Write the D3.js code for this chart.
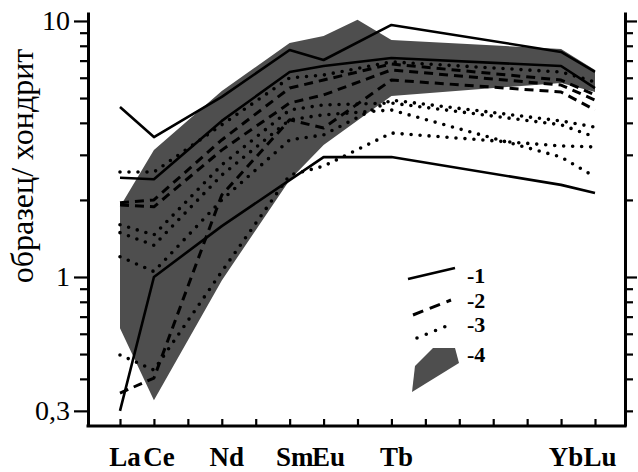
<!DOCTYPE html>
<html>
<head>
<meta charset="utf-8">
<script src="https://cdn.jsdelivr.net/npm/d3@7/dist/d3.min.js"></script>
<style>
  body { margin: 0; background: #fff; }
  svg { display: block; }
  text { font-family: "Liberation Serif", "Times New Roman", serif; fill: #000; }
</style>
</head>
<body>
<svg id="chart" width="638" height="472"></svg>
<script>
// Rare earth elements in order along the x axis
const elements = ["La","Ce","Pr","Nd","Pm","Sm","Eu","Gd","Tb","Dy","Ho","Er","Tm","Yb","Lu"];
// Elements named under the axis
const axisLabels = ["La","Ce","Nd","Sm","Eu","Tb","Yb","Lu"];
// Elements measured in each sample
const sampleElements = ["La","Ce","Nd","Sm","Eu","Tb","Yb","Lu"];

// Group 1 (solid lines): sample / chondrite
const solidSeries = [
  [4.61, 3.52, 5.05, 7.70, 7.04, 9.65, 7.57, 6.32],
  [2.44, 2.41, 4.07, 6.32, 6.67, 7.17, 6.67, 5.47],
  [0.30, 1.00, 1.58, 2.39, 2.94, 2.94, 2.29, 2.13]
];
// Group 2 (dashed lines)
const dashedSeries = [
  [1.91, 1.88, 3.13, 4.78, 5.14, 6.44, 5.62, 4.91],
  [0.352, 0.403, 2.09, 4.11, 3.82, 5.88, 5.28, 4.49],
  [1.95, 2.00, 3.43, 5.47, 5.88, 6.79, 5.88, 5.14]
];
// Group 3 (dotted lines)
const dottedSeries = [
  [2.57, 2.57, 3.93, 5.99, 6.15, 6.92, 6.32, 5.78],
  [1.20, 1.05, 2.00, 3.43, 3.59, 4.91, 4.07, 3.85],
  [0.496, 0.433, 1.05, 2.50, 2.71, 3.65, 3.25, 3.22],
  [1.49, 1.33, 2.50, 4.11, 4.30, 4.49, 2.94, 2.46],
  [1.60, 1.46, 2.74, 4.49, 4.70, 4.78, 3.93, 3.52]
];
// Group 4 (shaded field): upper and lower envelopes
const fieldUpperElements = ["La","Ce","Nd","Sm","Eu","Gd","Tb","Yb","Lu"];
const fieldUpper = [1.88, 3.13, 5.33, 8.20, 8.74, 10.1, 8.43, 7.77, 6.44];
const fieldLowerElements = ["La","Ce","Nd","Sm","Eu","Tb","Yb","Lu"];
const fieldLower = [0.63, 0.33, 0.97, 2.39, 3.28, 5.09, 5.73, 5.28];

// Y axis ticks
const yMajorTicks = [10, 1, 0.3];
const yMajorLabels = ["10", "1", "0,3"];
const yMinorTicks = [0.4, 0.5, 0.6, 0.7, 0.8, 0.9, 2, 3, 4, 5, 6, 7, 8, 9];
const yRightMajor = [10, 1];
const yRightMinor = [0.3, 0.4, 0.5, 0.6, 0.7, 0.8, 0.9, 2, 3, 4, 5, 6, 7, 8, 9];

const yTitle = "образец/ хондрит";
const legendLabels = ["-1", "-2", "-3", "-4"];

const svg = d3.select("#chart");
const plotLeft = 88, plotRight = 625, plotTop = 12, plotBottom = 426;
const fieldColor = "#4e4e4e";

const x = d3.scalePoint().domain(elements).range([120, 595]);
const y = d3.scaleLog().domain([0.2618, 10.84]).range([plotBottom, plotTop]);

// shaded field
const fieldPts = fieldUpperElements.map((e, i) => [x(e), y(fieldUpper[i])])
  .concat(fieldLowerElements.map((e, i) => [x(e), y(fieldLower[i])]).reverse());
svg.append("path")
  .attr("d", d3.line()(fieldPts) + "Z")
  .attr("fill", fieldColor);

const line = d3.line()
  .x((d, i) => x(sampleElements[i]))
  .y(d => y(d));

function drawSeries(series, cls, style) {
  svg.append("g").attr("class", cls)
    .selectAll("path").data(series).join("path")
    .attr("d", line)
    .attr("fill", "none")
    .attr("stroke", "#000")
    .attr("stroke-width", style.width)
    .attr("stroke-dasharray", style.dash)
    .attr("stroke-linecap", style.cap)
    .attr("stroke-linejoin", "round");
}
drawSeries(dottedSeries, "dotted", { width: 3.6, dash: "0,9", cap: "round" });
drawSeries(dashedSeries, "dashed", { width: 3, dash: "9,6", cap: "butt" });
drawSeries(solidSeries, "solid", { width: 2.6, dash: null, cap: "butt" });

// Left axis
const gLeft = svg.append("g").attr("transform", `translate(${plotLeft},0)`);
gLeft.call(d3.axisLeft(y).tickValues(yMajorTicks).tickSize(14).tickSizeOuter(0).tickPadding(4)
  .tickFormat((d, i) => yMajorLabels[i]));
gLeft.append("g").call(d3.axisLeft(y).tickValues(yMinorTicks).tickSize(8).tickSizeOuter(0).tickFormat(""))
  .select(".domain").remove();
gLeft.selectAll("text").style("font-size", "28px").style("font-family", "Liberation Serif, serif").attr("fill", "#000");

// Right axis
const gRight = svg.append("g").attr("transform", `translate(${plotRight},0)`);
gRight.call(d3.axisRight(y).tickValues(yRightMajor).tickSize(12).tickSizeOuter(0).tickFormat(""));
gRight.append("g").call(d3.axisRight(y).tickValues(yRightMinor).tickSize(8).tickSizeOuter(0).tickFormat(""))
  .select(".domain").remove();

// Bottom axis: ticks point into the plot
const gBottom = svg.append("g").attr("transform", `translate(0,${plotBottom})`);
gBottom.call(d3.axisTop(x).tickSize(7).tickSizeOuter(0).tickFormat(""));
gBottom.select(".domain").remove();
gBottom.append("line").attr("class", "baseline")
  .attr("x1", plotLeft - 1.5).attr("x2", plotRight + 1.5).attr("y1", 0).attr("y2", 0);

svg.selectAll(".domain").attr("stroke", "#000").attr("stroke-width", 3);
svg.selectAll(".tick line").attr("stroke", "#000").attr("stroke-width", 2.2);
gBottom.select(".baseline").attr("stroke", "#000").attr("stroke-width", 3);

// Element labels
svg.append("g").selectAll("text").data(axisLabels).join("text")
  .attr("x", d => x(d) + 5)
  .attr("y", 466)
  .attr("text-anchor", "middle")
  .style("font-size", "27px")
  .style("font-weight", "bold")
  .text(d => d);

// Y title
svg.append("text")
  .attr("transform", "translate(33,166) rotate(-90)")
  .attr("text-anchor", "middle")
  .style("font-size", "32px")
  .text(yTitle);

// Legend
const lg = svg.append("g").attr("class", "legend");
lg.append("line").attr("x1", 408).attr("y1", 279).attr("x2", 455).attr("y2", 268)
  .attr("stroke", "#000").attr("stroke-width", 2.6);
lg.append("line").attr("x1", 413).attr("y1", 315).attr("x2", 451).attr("y2", 300)
  .attr("stroke", "#000").attr("stroke-width", 3).attr("stroke-dasharray", "11,7");
lg.append("line").attr("x1", 417).attr("y1", 338).attr("x2", 454).attr("y2", 323)
  .attr("stroke", "#000").attr("stroke-width", 3.6).attr("stroke-dasharray", "0,10").attr("stroke-linecap", "round");
lg.append("path")
  .attr("d", "M412,392L415,366L433,348L455,348L459,363Z")
  .attr("fill", fieldColor);
lg.selectAll("text").data(legendLabels).join("text")
  .attr("x", 467)
  .attr("y", (d, i) => [283, 308, 332, 362][i])
  .style("font-size", "22px")
  .style("font-weight", "bold")
  .text(d => d);
</script>
</body>
</html>
